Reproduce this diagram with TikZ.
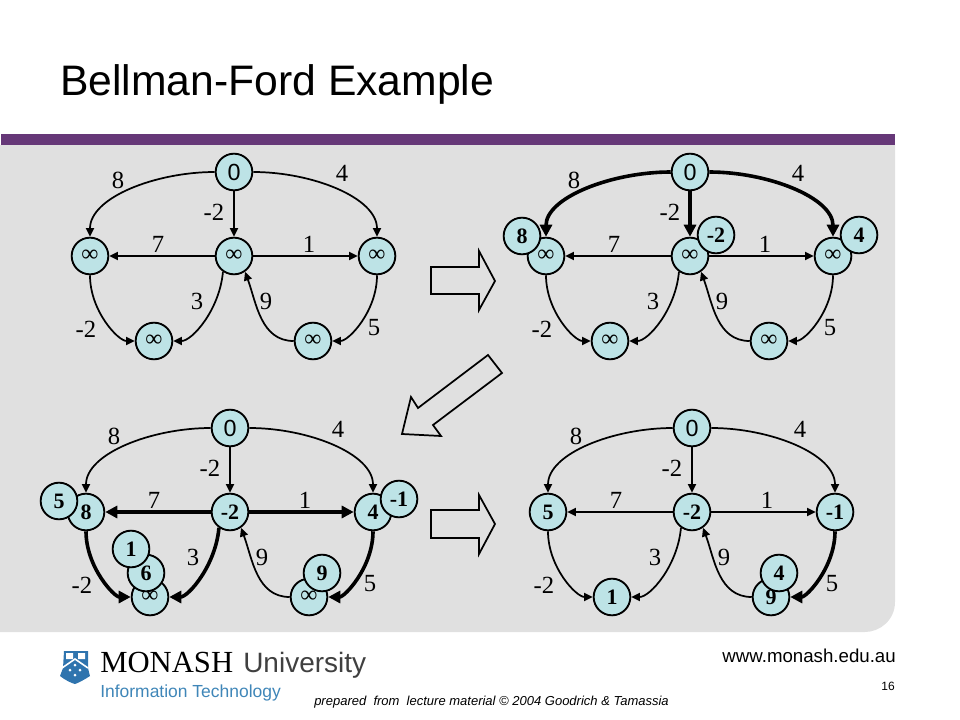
\documentclass[tikz,border=0pt]{standalone}
\usepackage{fontspec}
\setmainfont{Liberation Serif}
\newfontfamily\arial{Liberation Sans}
\usetikzlibrary{arrows.meta}
\definecolor{panelgray}{HTML}{E0E0E0}
\definecolor{barpurple}{HTML}{663878}
\definecolor{vertexblue}{HTML}{BDE3E6}
\definecolor{monashblue}{HTML}{2F74AE}
\definecolor{facultyblue}{HTML}{3F86B8}
\tikzset{
	vertex/.style={circle,draw=black,line width=1.4pt,fill=vertexblue,minimum size=27.5pt,inner sep=0pt,font=\fontsize{16.5}{16.5}\selectfont\bfseries},
	startvertex/.style={vertex,font=\fontsize{17.5}{17.5}\selectfont\arial},
	infvertex/.style={vertex,font=\fontsize{18}{18}\selectfont},
	thinarc/.style={line width=1.3pt,-{Triangle[length=6.5pt,width=6pt]}},
	thickarc/.style={line width=2.7pt,-{Triangle[length=9pt,width=9pt]}},
	weight/.style={font=\fontsize{18.5}{18.5}\selectfont,inner sep=0pt},
	blockarrow/.style={draw=black,line width=1.3pt,line join=miter}
}
% cac dinh cua mot do thi
\newcommand{\bfvertices}[5]{
	\node[startvertex] (top) at (234,172) {0};
	\node[#1] (left) at (90,256) {#2};
	\node[#1] (mid) at (234,256) {#3};
	\node[#1] (right) at (377,256) {#4};
	#5
}
% cac cung va trong so
\newcommand{\bfarcs}[8]{
	\draw[#1] (top) to[out=180,in=90] (left);
	\draw[#2] (top) -- (mid);
	\draw[#3] (top) to[out=0,in=90] (right);
	\draw[#4] (mid) -- (left);
	\draw[#5] (mid) -- (right);
	\draw[#6] (left) to[out=-90,in=180] (bl);
	\draw[#7] (mid.-125) to[out=-95,in=0] (bl);
	\draw[thinarc] (br) to[out=180,in=-70] (mid.-55);
	\draw[#8] (right) to[out=-90,in=0] (br);
	\node[weight] (w8) at (118,180) {8};
	\node[weight] (w4) at (342,173) {4};
	\node[weight] (wm) at (214,212) {-2};
	\node[weight] (w7) at (158,244) {7};
	\node[weight] (w1) at (309,244) {1};
	\node[weight] (w3) at (197,301) {3};
	\node[weight] (w9) at (266,301) {9};
	\node[weight] (wn) at (86,329) {-2};
	\node[weight] (w5) at (374,328) {5};
}
\begin{document}
\begin{tikzpicture}[x=0.75pt,y=-0.75pt]
	\useasboundingbox (0,0) rectangle (960,720);
	% Nen
	\fill[panelgray] (0,145) -- (895,145) -- (895,602) .. controls (895,620) and (880,632) .. (865,632) -- (0,632) -- cycle;
	\fill[barpurple] (1,134) rectangle (895,145);
	\node[anchor=base west,inner sep=0pt,font=\fontsize{32}{32}\selectfont\arial] (title) at (60,96) {Bellman-Ford Example};

	% Do thi 1
	\begin{scope}[name prefix=a-]
		\bfvertices{infvertex}{∞}{∞}{∞}{
			\node[infvertex] (bl) at (154,341) {∞};
			\node[infvertex] (br) at (313,341) {∞};
		}
		\bfarcs{thinarc}{thinarc}{thinarc}{thinarc}{thinarc}{thinarc}{thinarc}{thinarc}
	\end{scope}

	% Do thi 2
	\begin{scope}[shift={(456,0)},name prefix=b-]
		\bfvertices{infvertex}{∞}{∞}{∞}{
			\node[infvertex] (bl) at (154,341) {∞};
			\node[infvertex] (br) at (313,341) {∞};
		}
		\bfarcs{thickarc}{thickarc}{thickarc}{thinarc}{thinarc}{thinarc}{thinarc}{thinarc}
	\end{scope}
	\node[vertex] (b8) at (522,236) {8};
	\node[vertex] (bm) at (716,235) {-2};
	\node[vertex] (b4) at (859,235) {4};

	% Do thi 3
	\begin{scope}[shift={(-4,256)},name prefix=c-]
		\bfvertices{vertex}{8}{-2}{4}{
			\node[infvertex] (bl) at (154,341) {∞};
			\node[infvertex] (br) at (313,341) {∞};
		}
		\bfarcs{thinarc}{thinarc}{thinarc}{thickarc}{thickarc}{thickarc}{thickarc}{thickarc}
	\end{scope}
	\node[vertex] (c5) at (59,501) {5};
	\node[vertex] (c6) at (146,573) {6};
	\node[vertex] (c1) at (131,549) {1};
	\node[vertex] (c9) at (322,573) {9};
	\node[vertex] (cn) at (399,499) {-1};

	% Do thi 4
	\begin{scope}[shift={(458,256)},name prefix=d-]
		\bfvertices{vertex}{5}{-2}{-1}{
			\node[vertex] (bl) at (154,341) {1};
			\node[vertex] (br) at (313,341) {9};
		}
		\bfarcs{thinarc}{thinarc}{thinarc}{thinarc}{thinarc}{thinarc}{thinarc}{thickarc}
	\end{scope}
	\node[vertex] (d4) at (779,573) {4};

	% Mui ten khoi
	\draw[blockarrow] (431,267) -- (479,267) -- (479,251) -- (495,281) -- (479,310) -- (479,294) -- (431,294) -- cycle;
	\draw[blockarrow] (488,355) -- (502,373) -- (433,425) -- (441,436) -- (402,434) -- (411,397) -- (418,408) -- cycle;
	\draw[blockarrow] (431,510) -- (479,510) -- (479,495) -- (495,524) -- (479,554) -- (479,538) -- (431,538) -- cycle;

	% Logo va chan trang
	\fill[monashblue] (64,651) -- (88,651) -- (88,668) -- (90,676) .. controls (84,680) and (78,683) .. (75,684) .. controls (71,683) and (65,680) .. (60,676) -- (63,668) -- cycle;
	\fill[white] (66,653) rectangle (73,659) (78,653) rectangle (85,659);
	\draw[white,line width=1.2pt] (62,668) -- (75,659) -- (88,668);
	\fill[white] (75,665) circle (1.5) (70,670) circle (1.5) (80,670) circle (1.5) (75,675) circle (1.5);
	\node[anchor=base west,inner sep=0pt,font=\fontsize{23}{23}\selectfont] (monash) at (100,672) {MONASH};
	\node[anchor=base west,inner sep=0pt,font=\fontsize{21}{21}\selectfont\arial,text=black!75] (university) at (243,672) {University};
	\node[anchor=base west,inner sep=0pt,font=\fontsize{13.1}{13.1}\selectfont\arial,text=facultyblue] (faculty) at (100,697) {Information Technology};
	\node[anchor=base east,inner sep=0pt,font=\fontsize{14}{14}\selectfont\arial] (site) at (896,662) {www.monash.edu.au};
	\node[anchor=base east,inner sep=0pt,font=\fontsize{9}{9}\selectfont\arial] (page) at (895,690) {16};
	\node[anchor=base west,inner sep=0pt,font=\fontsize{9.75}{9.75}\selectfont\arial\itshape] (credit) at (314,705) {prepared\ \ from\ \ lecture material © 2004 Goodrich \& Tamassia};
\end{tikzpicture}
\end{document}
